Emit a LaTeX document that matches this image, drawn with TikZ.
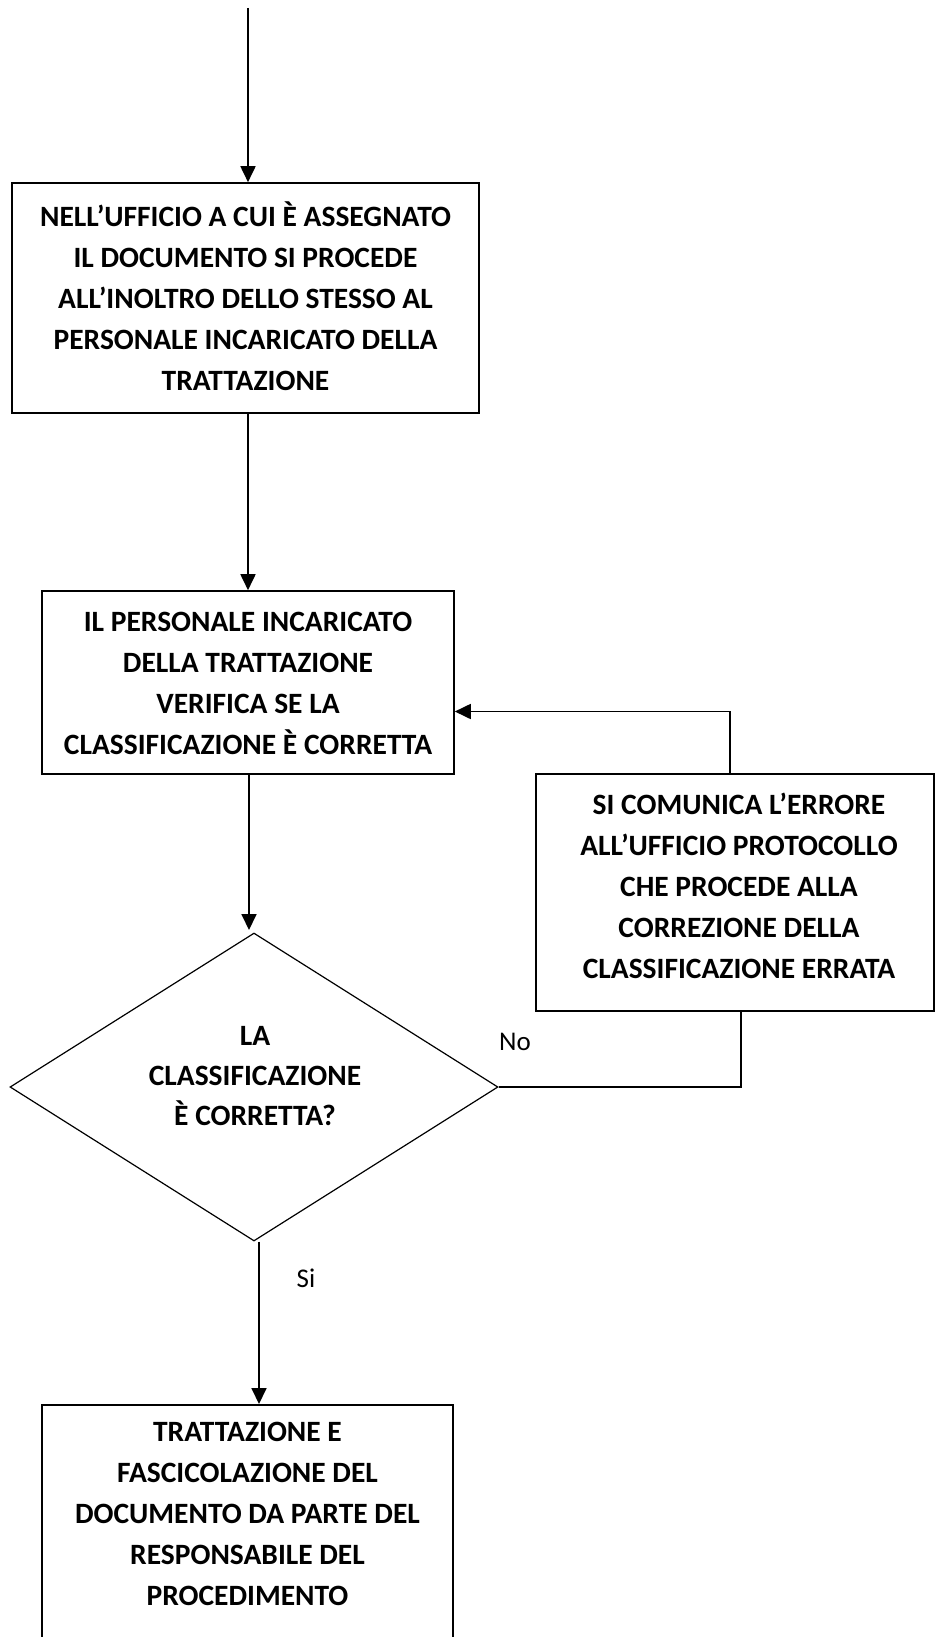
\documentclass[tikz,border=0pt]{standalone}
\usepackage{fontspec}
\setmainfont{Carlito}
\usetikzlibrary{arrows.meta,shapes.geometric}
\tikzset{
  box/.style={draw, line width=1.6pt, inner sep=0pt},
  txt/.style={align=center, inner sep=0pt, font=\bfseries\fontsize{29.5}{41}\selectfont},
  lbl/.style={inner sep=0pt, font=\fontsize{27}{30}\selectfont},
  conn/.style={line width=1.8pt},
  arr/.style={line width=1.8pt, -{Triangle[width=15pt,length=16pt]}},
}
\begin{document}
\begin{tikzpicture}[x=1pt,y=-1pt]
\useasboundingbox (0,0) rectangle (942,1637);
\clip (0,0) rectangle (942,1637);
% boxes
\node[box, minimum width=467pt, minimum height=230pt] (b1) at (245.5,298) {};
\node[box, minimum width=412pt, minimum height=183pt] (b2) at (248,682.5) {};
\node[box, minimum width=398pt, minimum height=237pt] (b3) at (735,892.5) {};
\node[draw, line width=1.2pt, diamond, minimum width=488pt, minimum height=308pt, inner sep=0pt] (d) at (254,1087) {};
\node[box, minimum width=411pt, minimum height=300pt, anchor=north] (b4) at (247.5,1404) {};
% texts
\node[txt] (t1) at (245.5,296) {NELL’UFFICIO A CUI È ASSEGNATO\\IL DOCUMENTO SI PROCEDE\\ALL’INOLTRO DELLO STESSO AL\\PERSONALE INCARICATO DELLA\\TRATTAZIONE};
\node[txt] (t2) at (248,683) {IL PERSONALE INCARICATO\\DELLA TRATTAZIONE\\VERIFICA SE LA\\CLASSIFICAZIONE È CORRETTA};
\node[txt] (t3) at (739,886) {SI COMUNICA L’ERRORE\\ALL’UFFICIO PROTOCOLLO\\CHE PROCEDE ALLA\\CORREZIONE DELLA\\CLASSIFICAZIONE ERRATA};
\node[txt, font=\bfseries\fontsize{29.5}{40}\selectfont] (td) at (255,1076) {LA\\CLASSIFICAZIONE\\È CORRETTA?};
\node[txt] (t4) at (247.5,1514) {TRATTAZIONE E\\FASCICOLAZIONE DEL\\DOCUMENTO DA PARTE DEL\\RESPONSABILE DEL\\PROCEDIMENTO};
\node[lbl] (no) at (515,1042) {No};
\node[lbl] (si) at (306,1278) {Si};
% connectors
\coordinate (start) at (248,8);
\draw[arr] (start) -- (start |- b1.north);
\draw[arr] (b1.south -| b2.north) -- (b2.north);
\draw[arr] (b2.south -| 249,0) -- (249,930);
\draw[conn] (d.east) -| ([xshift=6pt]b3.south);
\draw[arr] ([xshift=-5pt]b3.north) |- ([yshift=-29pt]b2.east);
\draw[arr] ([xshift=5pt]d.south) -- ([xshift=5pt]d.south |- b4.north);
\end{tikzpicture}
\end{document}
